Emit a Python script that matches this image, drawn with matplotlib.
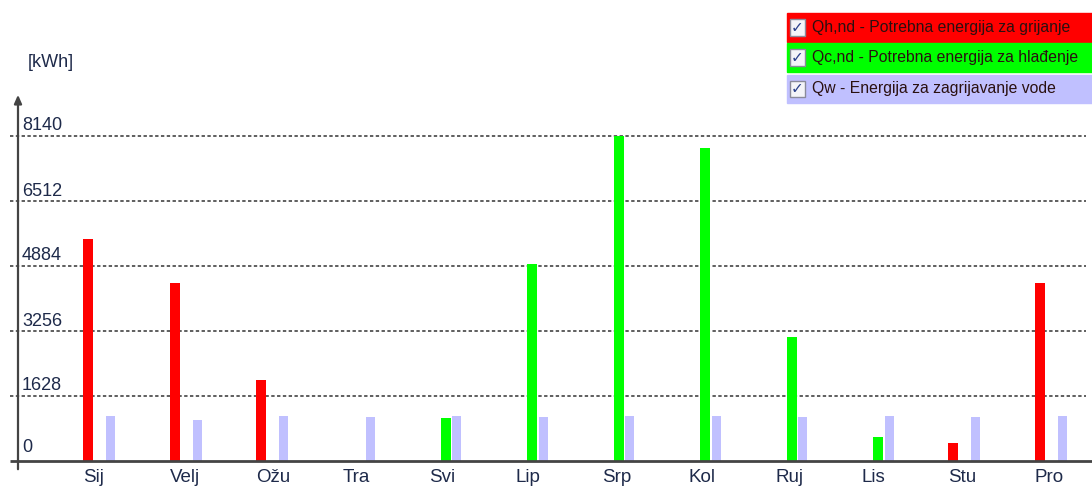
import matplotlib
matplotlib.use("Agg")
import matplotlib.pyplot as plt
from matplotlib.patches import Rectangle

plt.rcParams["font.family"] = ["Liberation Sans", "DejaVu Sans"]

# Monthly energy demand [kWh]
months = ["Sij", "Velj", "Ožu", "Tra", "Svi", "Lip", "Srp", "Kol", "Ruj", "Lis", "Stu", "Pro"]
q_heat = [5560, 4460, 2030, 0, 0, 0, 0, 0, 0, 0, 460, 4460]
q_cool = [0, 0, 0, 0, 1080, 4930, 8140, 7840, 3110, 610, 0, 0]
q_water = [1135, 1025, 1135, 1098, 1135, 1098, 1135, 1135, 1098, 1135, 1098, 1135]
y_ticks = [0, 1628, 3256, 4884, 6512, 8140]

legend_labels = [
    "Qh,nd - Potrebna energija za grijanje",
    "Qc,nd - Potrebna energija za hlađenje",
    "Qw - Energija za zagrijavanje vode",
]

RED = "#ff0000"
GREEN = "#00ff00"
LAVENDER = "#c0c0ff"
TXT = "#1e2a4a"

W, H = 1092, 488
fig = plt.figure(figsize=(W / 100, H / 100), dpi=100)
ax = fig.add_axes([0, 0, 1, 1])

# pixel geometry of the plot area
x0_px, step_px = 83, 86.5
base_px, top_px = 461, 136
kwh_per_px = y_ticks[-1] / (base_px - top_px)
ax.set_xlim(-x0_px / step_px, (W - x0_px) / step_px)
ax.set_ylim(-(H - base_px) * kwh_per_px, base_px * kwh_per_px)
ax.axis("off")

def px_x(px):
    return (px - x0_px) / step_px

def px_y(py):
    return (base_px - py) * kwh_per_px

slot = 11.5 / step_px
bw = 10 / step_px
idx = list(range(len(months)))

# dashed grid lines
for t in y_ticks[1:]:
    ax.plot([px_x(10), px_x(1086)], [t, t], color="#333333", lw=1.1,
            ls=(0, (2.2, 1.6)), zorder=1)
    ax.text(px_x(22), t + 1.5 * kwh_per_px, str(t), ha="left", va="bottom",
            fontsize=13, color=TXT, zorder=3)
ax.text(px_x(22), 5 * kwh_per_px, "0", ha="left", va="bottom",
        fontsize=13, color=TXT, zorder=3)

ax.bar([i for i in idx], q_heat, width=bw, align="edge", color=RED, zorder=2)
ax.bar([i + slot for i in idx], q_cool, width=bw, align="edge", color=GREEN, zorder=2)
ax.bar([i + 2 * slot for i in idx], q_water, width=bw * 0.92, align="edge",
       color=LAVENDER, zorder=2)

# axes lines
ax.plot([px_x(10), px_x(W)], [0, 0], color="#444444", lw=2, zorder=4,
        solid_capstyle="butt")
ax.annotate("", xy=(px_x(18), px_y(92)), xytext=(px_x(18), px_y(472)),
            arrowprops=dict(arrowstyle="-|>,head_length=0.5,head_width=0.22",
                            color="#444444", lw=1.6), zorder=4)
ax.text(px_x(28), px_y(62), "[kWh]", ha="left", va="center", fontsize=13, color=TXT)

for i, m in enumerate(months):
    ax.text(i, px_y(478), m, ha="left", va="center", fontsize=13.5, color=TXT)

# legend with check boxes
rows = [(13, 42, RED), (43, 72, GREEN), (75, 103, LAVENDER)]
for (ytop, ybot, col), lab in zip(rows, legend_labels):
    fig.patches.append(Rectangle((787 / W, 1 - ybot / H), (W - 787) / W,
                                 (ybot - ytop) / H, transform=fig.transFigure,
                                 color=col, zorder=5))
    cy = (ytop + ybot) / 2
    fig.patches.append(Rectangle((790 / W, 1 - (cy + 8) / H), 15 / W, 16 / H,
                                 transform=fig.transFigure, facecolor="#f4f4f8",
                                 edgecolor="#8a8a9a", lw=1, zorder=6))
    fig.text(797.5 / W, 1 - cy / H, "✓", ha="center", va="center", fontsize=11,
             color="#2a3f8a", family="DejaVu Sans", zorder=7)
    fig.text(812 / W, 1 - cy / H, lab, ha="left", va="center", fontsize=11.3,
             color="#2a1010", zorder=7)

fig.savefig("out.png", dpi=100)
